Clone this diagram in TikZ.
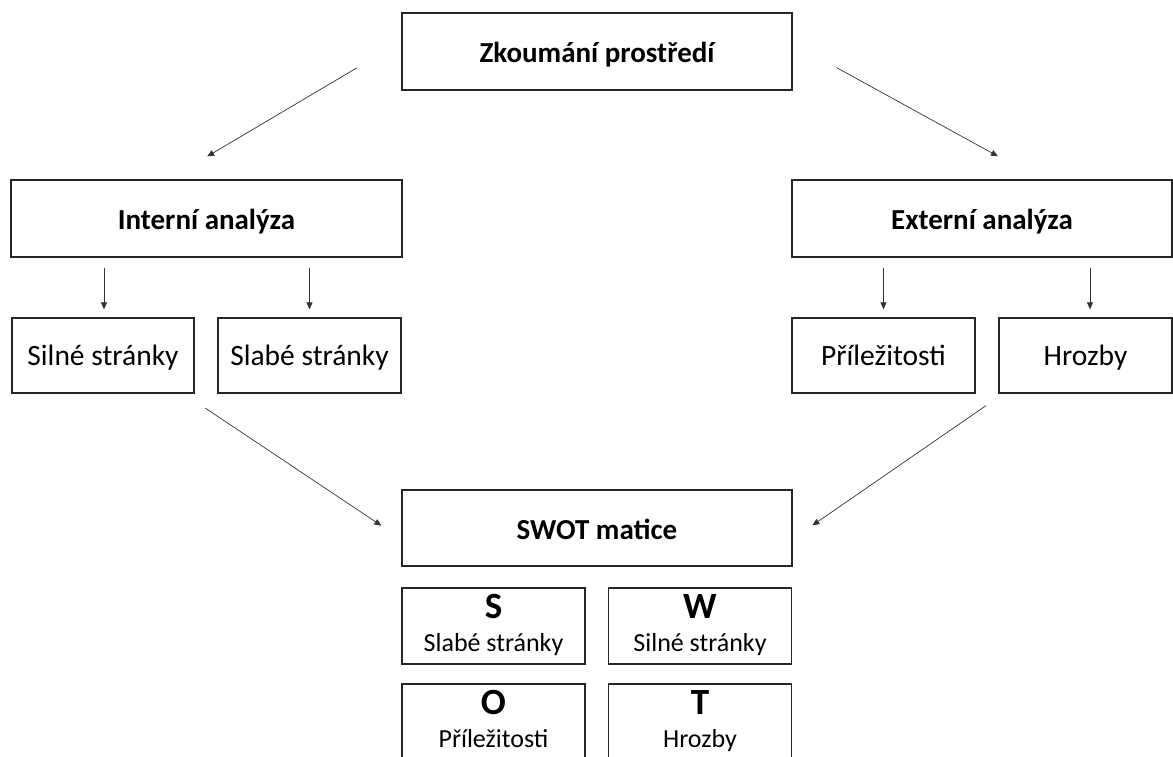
\documentclass[tikz,border=0pt]{standalone}
\usepackage{fontspec}
\setmainfont{Carlito}
\usetikzlibrary{arrows.meta, calc}

\begin{document}
\begin{tikzpicture}[x=1pt, y=-1pt,
  bigbox/.style={draw=black!85, line width=1.3pt, minimum height=77pt, inner sep=0pt,
    text height=28pt, text depth=6pt, font=\bfseries\fontsize{29}{34}\selectfont},
  smallbox/.style={draw=black!85, line width=1.3pt, minimum height=75pt, inner sep=0pt,
    text height=26pt, text depth=7pt, font=\fontsize{29.5}{34}\selectfont},
  letterbox/.style={draw=black!85, line width=1.3pt, minimum width=183pt, minimum height=76pt,
    inner sep=0pt, align=center, font=\fontsize{26}{33}\selectfont},
  arr/.style={-{Triangle[width=6pt,length=7pt]}, line width=0.7pt, draw=black!80}]
  \useasboundingbox (0,0) rectangle (1173,756);
  \newcommand{\swotcell}[2]{{\bfseries\fontsize{37}{37}\selectfont #1}\rule{0pt}{24pt}\\#2\rule[-7pt]{0pt}{7pt}}

  % top and the two analyses
  \node[bigbox, minimum width=390pt] (zkoum) at (597,51.5) {Zkoumání prostředí};
  \node[bigbox, minimum width=391pt] (intern) at (206.5,218.5) {Interní analýza};
  \node[bigbox, minimum width=380pt] (extern) at (982,218.5) {Externí analýza};

  % factors
  \node[smallbox, minimum width=182pt] (silne) at (103,355.5) {Silné stránky};
  \node[smallbox, minimum width=183pt] (slabe) at (309.5,355.5) {Slabé stránky};
  \node[smallbox, minimum width=183pt] (prilez) at (883.5,355.5) {Příležitosti};
  \node[smallbox, minimum width=173pt] (hrozby) at (1085.5,355.5) {Hrozby};

  % matrix
  \node[bigbox, minimum width=390pt, minimum height=76pt] (swot) at (597,528) {SWOT matice};
  \node[letterbox] (S) at (493.5,626) {\swotcell{S}{Slabé stránky}};
  \node[letterbox] (W) at (700,626) {\swotcell{W}{Silné stránky}};
  \node[letterbox] (O) at (493.5,722) {\swotcell{O}{Příležitosti}};
  \node[letterbox] (T) at (700,722) {\swotcell{T}{Hrozby}};

  \draw[arr, shorten <=52pt, shorten >=45pt] ([yshift=10pt]zkoum.west) -- ([xshift=-38pt]intern.north);
  \draw[arr, shorten <=50pt, shorten >=48pt] ([yshift=8pt]zkoum.east) -- ([xshift=58pt]extern.north);

  \draw[arr, shorten <=10pt, shorten >=8pt] ([xshift=1pt]intern.south -| silne.north) -- ([xshift=1pt]silne.north);
  \draw[arr, shorten <=10pt, shorten >=8pt] (intern.south -| slabe.north) -- (slabe.north);
  \draw[arr, shorten <=10pt, shorten >=8pt] (extern.south -| prilez.north) -- (prilez.north);
  \draw[arr, shorten <=10pt, shorten >=8pt] ([xshift=4.5pt]extern.south -| hrozby.north) -- ([xshift=4.5pt]hrozby.north);

  \draw[arr, shorten <=26pt, shorten >=24pt] ([xshift=-11pt]silne.south east) -- ([yshift=-11pt]swot.west);
  \draw[arr, shorten <=21pt, shorten >=24pt] ([xshift=5pt]hrozby.south west) -- ([yshift=-11pt]swot.east);
\end{tikzpicture}
\end{document}
